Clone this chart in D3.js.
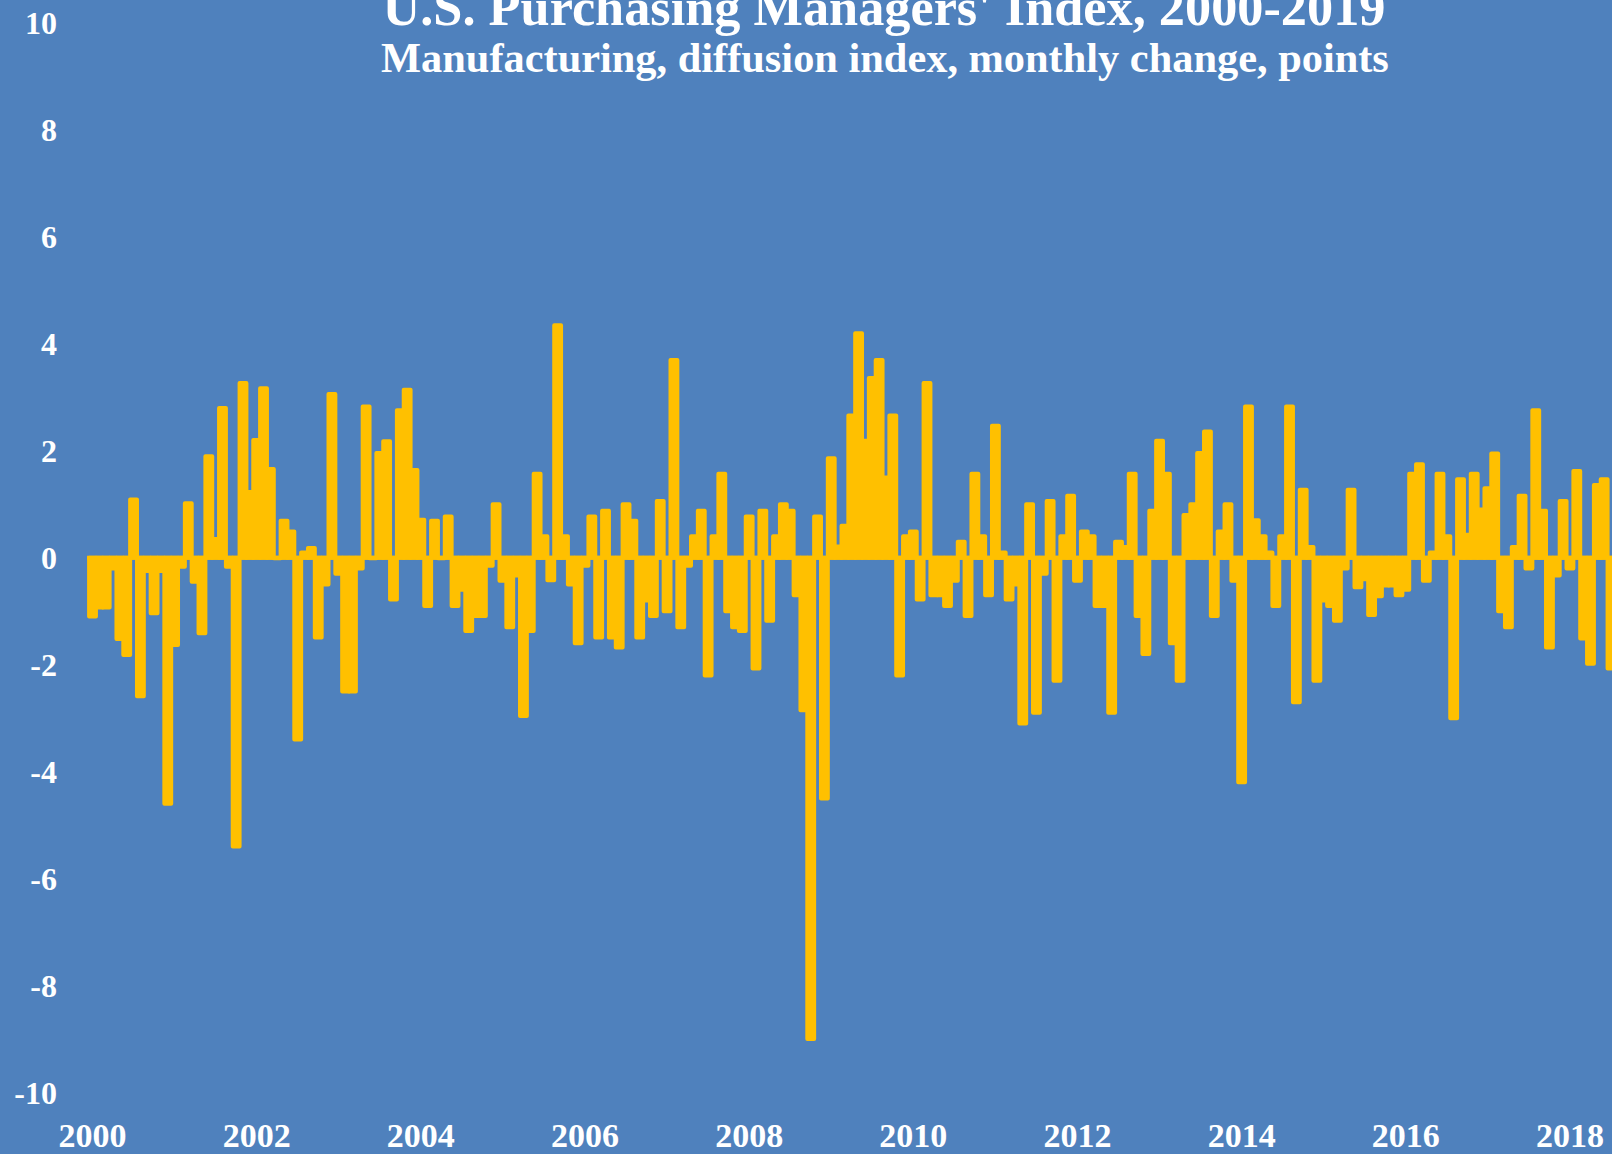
<!DOCTYPE html>
<html>
<head>
<meta charset="utf-8">
<script src="https://cdn.jsdelivr.net/npm/d3@7"></script>
<style>
  html, body { margin: 0; padding: 0; background: #4f81bd; overflow: hidden; }
  svg { display: block; }
  text { font-family: Garamond, "Liberation Serif", "Times New Roman", serif; font-weight: bold; fill: #fff; }
</style>
</head>
<body>
<svg id="chart"></svg>
<script>
/* text */
var title = "U.S. Purchasing Managers' Index, 2000-2019";
var subtitle = "Manufacturing, diffusion index, monthly change, points";

/* axes */
var yTicks = [-10, -8, -6, -4, -2, 0, 2, 4, 6, 8, 10];
var xTickYears = [2000, 2002, 2004, 2006, 2008, 2010, 2012, 2014, 2016, 2018];

// monthly change in the index, Jan..Dec of each year
var pmi2000 = [-1.1, -0.93, -0.93, -0.2, -1.52, -1.82, 1.09, -2.59, -0.25, -1.04, -0.25, -4.6];
var pmi2001 = [-1.63, -0.17, 1.02, -0.45, -1.41, 1.9, 0.35, 2.8, -0.17, -5.4, 3.27, 1.23];
var pmi2002 = [2.2, 3.17, 1.66, 0.0, 0.69, 0.49, -3.4, 0.1, 0.18, -1.49, -0.5, 3.06];
var pmi2003 = [-0.3, -2.5, -2.5, -0.2, 2.83, 0.0, 1.96, 2.18, -0.78, 2.76, 3.14, 1.64];
var pmi2004 = [0.71, -0.9, 0.69, 0.0, 0.77, -0.9, -0.6, -1.37, -1.09, -1.09, -0.15, 1.0];
var pmi2005 = [-0.43, -1.3, -0.33, -2.96, -1.37, 1.57, 0.4, -0.42, 4.35, 0.4, -0.5, -1.6];
var pmi2006 = [-0.15, 0.77, -1.49, 0.88, -1.49, -1.68, 1.0, 0.69, -1.49, -0.8, -1.09, 1.06];
var pmi2007 = [-1.0, 3.7, -1.3, -0.15, 0.4, 0.88, -2.2, 0.4, 1.57, -1.0, -1.3, -1.37];
var pmi2008 = [0.77, -2.07, 0.88, -1.18, 0.4, 1.0, 0.88, -0.7, -2.85, -9.0, 0.77, -4.5];
var pmi2009 = [1.86, 0.21, 0.6, 2.66, 4.2, 2.19, 3.36, 3.7, 1.5, 2.66, -2.2, 0.4];
var pmi2010 = [0.49, -0.78, 3.27, -0.7, -0.7, -0.9, -0.43, 0.3, -1.09, 1.57, 0.4, -0.7];
var pmi2011 = [2.47, 0.1, -0.78, -0.5, -3.1, 1.0, -2.9, -0.3, 1.06, -2.3, 0.4, 1.16];
var pmi2012 = [-0.43, 0.49, 0.4, -0.9, -0.9, -2.9, 0.3, 0.2, 1.57, -1.09, -1.8, 0.88];
var pmi2013 = [2.19, 1.57, -1.6, -2.3, 0.8, 1.0, 1.96, 2.36, -1.09, 0.49, 1.0, -0.43];
var pmi2014 = [-4.2, 2.83, 0.7, 0.4, 0.1, -0.9, 0.4, 2.83, -2.7, 1.27, 0.2, -2.3];
var pmi2015 = [-0.8, -0.9, -1.18, -0.2, 1.27, -0.55, -0.4, -1.07, -0.72, -0.52, -0.52, -0.7];
var pmi2016 = [-0.6, 1.57, 1.75, -0.43, 0.1, 1.57, 0.4, -3.0, 1.47, 0.43, 1.57, 0.9];
var pmi2017 = [1.3, 1.95, -1.0, -1.3, 0.2, 1.16, -0.2, 2.76, 0.88, -1.68, -0.33, 1.06];
var pmi2018 = [-0.2, 1.62, -1.51, -1.98, 1.36, 1.47, -2.07];

var values = [].concat(pmi2000, pmi2001, pmi2002, pmi2003, pmi2004, pmi2005,
  pmi2006, pmi2007, pmi2008, pmi2009, pmi2010, pmi2011, pmi2012, pmi2013,
  pmi2014, pmi2015, pmi2016, pmi2017, pmi2018);

var months = values.map(function (v, i) { return new Date(2000, i, 1); });
var data = values.map(function (v, i) { return { month: months[i], value: v }; });

var W = 1612, H = 1154;
var barColor = "#ffc000";
var step = 6.84;

var svg = d3.select("#chart").attr("width", W).attr("height", H);

svg.append("rect").attr("width", W).attr("height", H).attr("fill", "#4f81bd");

var x = d3.scaleBand()
  .domain(months)
  .range([89.1, 89.1 + step * months.length])
  .paddingInner(0)
  .paddingOuter(0);

var y = d3.scaleLinear().domain([-10, 10]).range([1092.5, 23]);

// zero band
svg.append("line")
  .attr("x1", x.range()[0] - 2)
  .attr("x2", x.range()[1])
  .attr("y1", y(0))
  .attr("y2", y(0))
  .attr("stroke", barColor)
  .attr("stroke-width", 4);

// bars
svg.append("g")
  .selectAll("rect")
  .data(data)
  .join("rect")
  .attr("x", (d) => x(d.month))
  .attr("width", x.bandwidth())
  .attr("y", (d) => y(Math.max(0, d.value)))
  .attr("height", (d) => Math.max(0.5, Math.abs(y(d.value) - y(0))))
  .attr("fill", barColor)
  .attr("stroke", barColor)
  .attr("stroke-width", 4)
  .attr("stroke-linejoin", "round");

// y axis
var yAxis = svg.append("g")
  .attr("transform", "translate(57,0)")
  .call(d3.axisLeft(y).tickValues(yTicks).tickSize(0).tickPadding(0)
    .tickFormat((d) => String(d)));
yAxis.select(".domain").remove();
yAxis.selectAll("text")
  .attr("font-size", 32)
  .attr("dy", "0.34em")
  .style("font-family", null)
  .attr("font-family", null);

// x axis
var tickMonths = xTickYears.map((yr) => months[(yr - 2000) * 12]);
var xAxis = svg.append("g")
  .attr("transform", "translate(0,1120)")
  .call(d3.axisBottom(x).tickValues(tickMonths).tickSize(0).tickPadding(3)
    .tickFormat(d3.timeFormat("%Y")));
xAxis.select(".domain").remove();
xAxis.selectAll("text").attr("font-size", 34);

// d3 axes set a sans-serif font on the group; drop it so the css applies
yAxis.attr("font-family", null).attr("font-size", null);
xAxis.attr("font-family", null).attr("font-size", null);

/**
 * scale a text's font size so it spans the given width
 */
function fitWidth(sel, width) {
  sel.attr("font-size", 100);
  var w = sel.node().getComputedTextLength();
  sel.attr("font-size", (100 * width) / w);
}

var t1 = svg.append("text")
  .attr("x", 884)
  .attr("y", 25)
  .attr("text-anchor", "middle")
  .text(title);
fitWidth(t1, 1003);

var t2 = svg.append("text")
  .attr("x", 885)
  .attr("y", 72)
  .attr("text-anchor", "middle")
  .text(subtitle);
fitWidth(t2, 1008);
</script>
</body>
</html>
